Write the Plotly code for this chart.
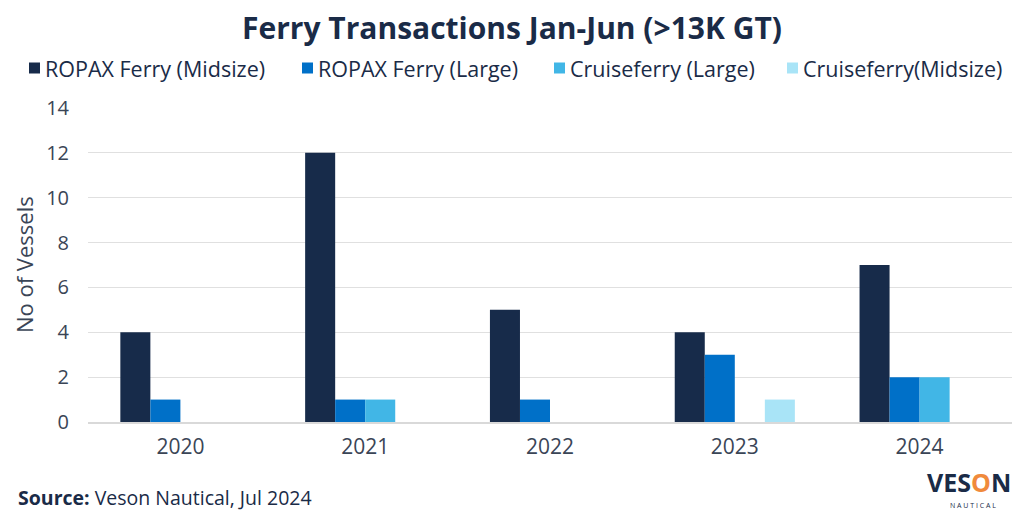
import plotly.graph_objects as go

years = ["2020", "2021", "2022", "2023", "2024"]
series_names = ["ROPAX Ferry (Midsize)", "ROPAX Ferry (Large)", "Cruiseferry (Large)", "Cruiseferry(Midsize)"]
ropax_mid = [4, 12, 5, 4, 7]
ropax_large = [1, 1, 1, 3, 2]
cruise_large = [0, 1, 0, 0, 2]
cruise_mid = [0, 0, 0, 1, 0]
colors = ["#172B4A", "#0070C8", "#41B6E6", "#A9E4F7"]
y_ticks = [0, 2, 4, 6, 8, 10, 12, 14]

FONT = "Open Sans"
TEXT = "#1A2B47"
GREY = "#3A4556"

W, H = 1016, 504
L, R, T, B = 80, 12, 100, 90
PW, PH = W - L - R, H - T - B

# legend layout (pixel positions of each legend swatch, left edge)
legend_swatch_x = [21, 294, 546, 779]
legend_y = 60
swatch = 11


def px(fx):
    return (fx - L) / PW


def py(fy):
    return (H - B - fy) / PH


fig = go.Figure()
for name, vals, c in zip(series_names, [ropax_mid, ropax_large, cruise_large, cruise_mid], colors):
    fig.add_trace(go.Bar(name=name, x=years, y=vals, marker=dict(color=c, line=dict(width=0)),
                         showlegend=False))

fig.update_layout(
    width=W, height=H,
    margin=dict(l=L, r=R, t=T, b=B, autoexpand=False),
    paper_bgcolor="white", plot_bgcolor="white",
    barmode="group", bargap=0.35, bargroupgap=0,
    font=dict(family=FONT, color=GREY),
    title=dict(text="<b>Ferry Transactions Jan-Jun (>13K GT)</b>", x=504 / W, xanchor="center",
               y=1 - 20 / H, yanchor="middle", font=dict(size=30, color=TEXT, family=FONT)),
    showlegend=False,
    xaxis=dict(showgrid=False, tickfont=dict(size=21, color=GREY), ticks="",
               showline=True, linecolor="#D9D9D9", linewidth=1.5, ticklabelstandoff=5),
    yaxis=dict(range=[0, 14], tickvals=y_ticks, showgrid=True, gridcolor="#E0E0E0", gridwidth=1,
               zeroline=False, tickfont=dict(size=20, color=GREY), ticks="", ticklabelstandoff=18),
)

for name, c, sx in zip(series_names, colors, legend_swatch_x):
    fig.add_shape(type="rect", xref="paper", yref="paper",
                  x0=px(sx), x1=px(sx + swatch), y0=py(legend_y + swatch / 2), y1=py(legend_y - swatch / 2),
                  fillcolor=c, line=dict(width=0))
    fig.add_annotation(text=name, xref="paper", yref="paper", x=px(sx + swatch + 3), xanchor="left",
                       y=py(legend_y), yanchor="middle", showarrow=False,
                       font=dict(size=21.5, color=TEXT, family=FONT))

fig.add_annotation(text="No of Vessels", xref="paper", yref="paper", x=px(16), xanchor="center",
                   y=0.5, yanchor="middle", textangle=-90, showarrow=False,
                   font=dict(size=22, color=GREY, family=FONT))
fig.add_annotation(text="<b>Source:</b> Veson Nautical, Jul 2024", xref="paper", yref="paper",
                   x=px(8), xanchor="left", y=py(489), yanchor="middle", showarrow=False,
                   font=dict(size=19.5, color=TEXT, family=FONT))
fig.add_annotation(text="<b>VES<span style='color:#F08A3C'>O</span>N</b>", xref="paper", yref="paper",
                   x=px(1005), xanchor="right", y=py(474), yanchor="middle", showarrow=False,
                   font=dict(size=25, color=TEXT, family=FONT))
fig.add_annotation(text="N A U T I C A L", xref="paper", yref="paper",
                   x=px(965), xanchor="center", y=py(497), yanchor="middle", showarrow=False,
                   font=dict(size=7, color=TEXT, family=FONT))

fig.write_html("out.html")
